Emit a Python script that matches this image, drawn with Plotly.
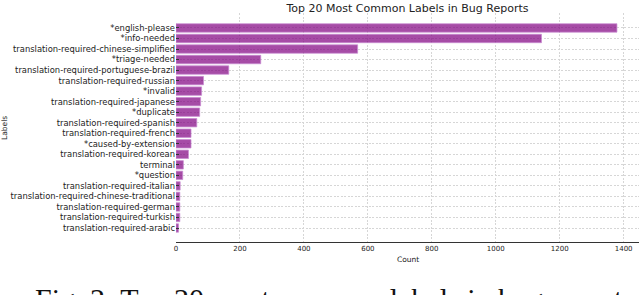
import plotly.graph_objects as go

labels = [
    "*english-please", "*info-needed", "translation-required-chinese-simplified",
    "*triage-needed", "translation-required-portuguese-brazil",
    "translation-required-russian", "*invalid", "translation-required-japanese",
    "*duplicate", "translation-required-spanish", "translation-required-french",
    "*caused-by-extension", "translation-required-korean", "terminal", "*question",
    "translation-required-italian", "translation-required-chinese-traditional",
    "translation-required-german", "translation-required-turkish",
    "translation-required-arabic",
]
counts = [1379, 1143, 568, 265, 165, 86, 80, 77, 74, 65, 47, 47, 39, 23, 21, 13, 12, 12, 12, 8]
x_ticks = [0, 200, 400, 600, 800, 1000, 1200, 1400]

W, H = 640, 295
PL, PR, PT, PB = 176, 639, 13, 242          # plot box in pixels
L, R, T, B = PL, W - PR, PT, H - PB
pw = W - L - R
ph = H - T - B
font = "DejaVu Sans"
grid = dict(showgrid=True, gridcolor="#d6d6d6", griddash="2px,1.5px", gridwidth=0.8)


def px(xr):
    return (xr - PL) / pw


def py(yr):
    return (PB - yr) / ph


fig = go.Figure(go.Bar(
    x=counts, y=labels, orientation="h", width=0.8,
    marker=dict(color="rgba(128,0,128,0.7)",
                line=dict(color="rgba(200,140,210,0.9)", width=0.8)),
))

fig.update_layout(
    width=W, height=H,
    margin=dict(l=L, r=R, t=T, b=B, pad=0, autoexpand=False),
    plot_bgcolor="white", paper_bgcolor="white",
    showlegend=False,
    font=dict(family=font, size=8, color="#222"),
    title=dict(text="Top 20 Most Common Labels in Bug Reports",
               x=(L + pw / 2) / W, xanchor="center",
               y=1 - 8 / H, yanchor="middle",
               font=dict(family=font, size=11, color="#222")),
    xaxis=dict(range=[0, max(counts) * 1.05], tickvals=x_ticks, automargin=False,
               zeroline=False, showline=True, linecolor="#333", linewidth=1,
               ticks="", tickfont=dict(size=7), layer="above traces", **grid),
    yaxis=dict(categoryorder="array", categoryarray=labels, automargin=False,
               range=[19 + 1.33, -1.42],
               zeroline=False, showline=False,
               ticks="inside", ticklen=3, tickcolor="#333", tickwidth=1,
               tickfont=dict(size=8.4), layer="above traces", **grid),
    bargap=0.2,
)

fig.add_annotation(text="Count", xref="paper", yref="paper",
                   x=0.5, y=py(259), xanchor="center", yanchor="middle",
                   showarrow=False, font=dict(family=font, size=7.5, color="#222"))
fig.add_annotation(text="Labels", xref="paper", yref="paper",
                   x=px(5), y=py(128), xanchor="center", yanchor="middle",
                   textangle=-90, showarrow=False,
                   font=dict(family=font, size=7.5, color="#222"))
fig.add_annotation(text="Fig. 2: Top 20 most common labels in bug reports",
                   xref="paper", yref="paper",
                   x=px(33), y=py(280), xanchor="left", yanchor="top",
                   showarrow=False,
                   font=dict(family="Liberation Serif", size=30, color="#111"))

fig.write_html("out.html", config={"displayModeBar": False},
               post_script="document.body.style.margin='0';")
